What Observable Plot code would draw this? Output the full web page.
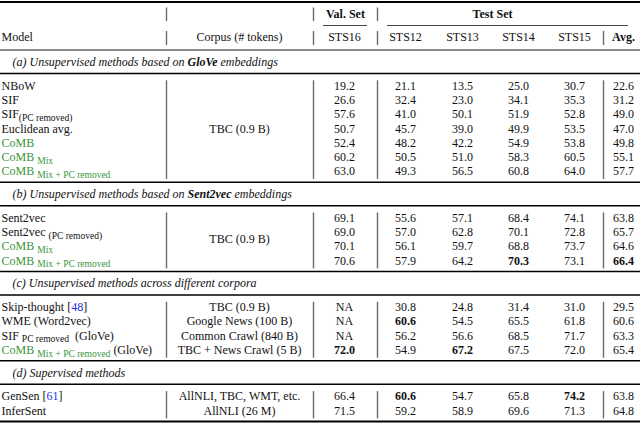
<!DOCTYPE html>
<html><head><meta charset="utf-8">
<script src="https://cdn.jsdelivr.net/npm/d3@7"></script>
<script src="https://cdn.jsdelivr.net/npm/@observablehq/plot@0.6"></script>
<style>body{margin:0;background:#fff} svg text{white-space:pre}</style>
</head><body><div id="chart"></div>
<script>
// ---------- data ----------
const columns = ["STS16", "STS12", "STS13", "STS14", "STS15", "Avg."];
const headerTop = ["Val. Set", "Test Set"];
const headerModel = "Model";
const headerCorpus = "Corpus (# tokens)";
const sections = [
  "(a) Unsupervised methods based on |b:GloVe| embeddings",
  "(b) Unsupervised methods based on |b:Sent2vec| embeddings",
  "(c) Unsupervised methods across different corpora",
  "(d) Supervised methods"
];
const models = [
  "NBoW", "SIF", "SIF|s:(PC removed)", "Euclidean avg.", "g:CoMB", "g:CoMB |gs:Mix", "g:CoMB |gs:Mix + PC removed",
  "Sent2vec", "Sent2vec |s:(PC removed)", "g:CoMB |gs:Mix", "g:CoMB |gs:Mix + PC removed",
  "Skip-thought [|c:48|]", "WME (Word2vec)", "SIF |s:PC removed|  (GloVe)", "g:CoMB |gs:Mix + PC removed| (GloVe)",
  "GenSen [|c:61|]", "InferSent"
];
const sectionOfRow = [0,0,0,0,0,0,0, 1,1,1,1, 2,2,2,2, 3,3];
const corpora = ["TBC (0.9 B)", "TBC (0.9 B)", "TBC (0.9 B)", "Google News (100 B)", "Common Crawl (840 B)",
  "TBC + News Crawl (5 B)", "AllNLI, TBC, WMT, etc.", "AllNLI (26 M)"];
const corpusRows = [[0,1,2,3,4,5,6], [7,8,9,10], [11], [12], [13], [14], [15], [16]];
const sts16 = [19.2, 26.6, 57.6, 50.7, 52.4, 60.2, 63.0, 69.1, 69.0, 70.1, 70.6, null, null, null, 72.0, 66.4, 71.5];
const sts12 = [21.1, 32.4, 41.0, 45.7, 48.2, 50.5, 49.3, 55.6, 57.0, 56.1, 57.9, 30.8, 60.6, 56.2, 54.9, 60.6, 59.2];
const sts13 = [13.5, 23.0, 50.1, 39.0, 42.2, 51.0, 56.5, 57.1, 62.8, 59.7, 64.2, 24.8, 54.5, 56.6, 67.2, 54.7, 58.9];
const sts14 = [25.0, 34.1, 51.9, 49.9, 54.9, 58.3, 60.8, 68.4, 70.1, 68.8, 70.3, 31.4, 65.5, 68.5, 67.5, 65.8, 69.6];
const sts15 = [30.7, 35.3, 52.8, 53.5, 53.8, 60.5, 64.0, 74.1, 72.8, 73.7, 73.1, 31.0, 61.8, 71.7, 72.0, 74.2, 71.3];
const avg   = [22.6, 31.2, 49.0, 47.0, 49.8, 55.1, 57.7, 63.8, 65.7, 64.6, 66.4, 29.5, 60.6, 63.3, 65.4, 63.8, 64.8];
const boldCells = [[10, "STS14"], [10, "Avg."], [12, "STS12"], [14, "STS16"], [14, "STS13"], [15, "STS12"], [15, "STS15"]];

// ---------- layout (positions, sizes, styles) ----------
const L = {
  width: 640, height: 423,
  font: "Liberation Serif", size: 12, subSize: 9.5, subShift: 2.5,
  ink: "#111", green: "#3a963a", blue: "#2233dd", barColor: "#6a6a6a",
  colX: {model: 1, corpus: 239, "STS16": 344, "STS12": 405, "STS13": 462, "STS14": 518, "STS15": 574, "Avg.": 623},
  topX: {"Val. Set": 345, "Test Set": 492},
  captionX: 12,
  bars: [166, 313, 377, 603],
  cmid: [[323, 367], [387, 628]],
  topRuleY: 1.5, hdr1Y: 14, cmidY: 25, hdr2Y: 37, hdrRuleY: 49.5,
  capGap: 12, capRule: 11.5, firstRow: 12.3, step: 14.3, lastRule: 10.6
};

// ---------- build table geometry ----------
const series = {"STS16": sts16, "STS12": sts12, "STS13": sts13, "STS14": sts14, "STS15": sts15, "Avg.": avg};
const rowY = [], capY = [], hRules = [];
hRules.push({y: L.topRuleY, w: 2}, {y: L.hdrRuleY, w: 0.9});
let cursor = L.hdrRuleY;
sections.forEach((s, si) => {
  const cy = cursor + L.capGap; capY.push(cy);
  const r = cy + L.capRule; hRules.push({y: r, w: 1.5});
  const idx = sectionOfRow.map((v, i) => v === si ? i : -1).filter(i => i >= 0);
  idx.forEach((i, k) => rowY[i] = r + L.firstRow + k * L.step);
  cursor = rowY[idx[idx.length - 1]] + L.lastRule;
  hRules.push({y: cursor, w: si === sections.length - 1 ? 2 : 1.5});
});

const isBold = (i, c) => boldCells.some(([r, cc]) => r === i && cc === c);
const cells = [];
models.forEach((m, i) => columns.forEach(c => {
  const v = series[c][i];
  cells.push({x: L.colX[c], y: rowY[i], t: v == null ? "NA" : v.toFixed(1), b: isBold(i, c)});
}));
const plain = s => s.split("|").map(seg => { const m = seg.match(/^([a-z]+):(.*)$/s); return m ? m[2] : seg; }).join("");
const modelTexts = models.map((m, i) => ({x: L.colX.model, y: rowY[i], t: plain(m)}));
const corpusTexts = corpora.map((c, k) => ({x: L.colX.corpus, y: d3.mean(corpusRows[k], i => rowY[i]), t: c}));
const captionTexts = sections.map((s, si) => ({x: L.captionX, y: capY[si], t: plain(s)}));
const hdr1 = headerTop.map(h => ({x: L.topX[h], y: L.hdr1Y, t: h}));
const hdr2 = [{x: L.colX.model, y: L.hdr2Y, t: headerModel, a: "start"}, {x: L.colX.corpus, y: L.hdr2Y, t: headerCorpus, a: "middle"}]
  .concat(columns.map(c => ({x: L.colX[c], y: L.hdr2Y, t: c, a: "middle", b: c === "Avg."})));

const bars = [];
L.bars.slice(0, 3).forEach(x => bars.push({x, y1: L.hdr1Y - 6.5, y2: L.hdr1Y + 7}));
L.bars.forEach(x => bars.push({x, y1: L.hdr2Y - 6, y2: L.hdr2Y + 8}));
sections.forEach((s, si) => {
  const ys = rowY.filter((y, i) => sectionOfRow[i] === si);
  L.bars.forEach(x => bars.push({x, y1: ys[0] - 5, y2: ys[ys.length - 1] + 8}));
});
const cmids = L.cmid.map(([a, b]) => ({x1: a, x2: b, y: L.cmidY}));

const T = {fontFamily: L.font, fontSize: L.size, fill: L.ink};
const plot = Plot.plot({
  width: L.width, height: L.height, margin: 0,
  x: {type: "linear", domain: [0, L.width], range: [0, L.width], axis: null},
  y: {type: "linear", domain: [0, L.height], range: [0, L.height], axis: null},
  style: {background: "#fff"},
  marks: [
    Plot.ruleY(hRules, {y: "y", x1: 0, x2: L.width, stroke: "#000", strokeWidth: d => d.w}),
    Plot.ruleY(cmids, {y: "y", x1: "x1", x2: "x2", stroke: "#333", strokeWidth: 0.9}),
    Plot.ruleX(bars, {x: "x", y1: "y1", y2: "y2", stroke: L.barColor, strokeWidth: 1.4}),
    Plot.text(hdr1, {x: "x", y: "y", text: "t", ...T, fontWeight: "bold"}),
    Plot.text(hdr2.filter(d => !d.b && d.a === "start"), {x: "x", y: "y", text: "t", ...T, textAnchor: "start"}),
    Plot.text(hdr2.filter(d => !d.b && d.a === "middle"), {x: "x", y: "y", text: "t", ...T}),
    Plot.text(hdr2.filter(d => d.b), {x: "x", y: "y", text: "t", ...T, fontWeight: "bold"}),
    Plot.text(captionTexts, {x: "x", y: "y", text: "t", ...T, textAnchor: "start", fontStyle: "italic"}),
    Plot.text(modelTexts, {x: "x", y: "y", text: "t", ...T, textAnchor: "start"}),
    Plot.text(corpusTexts, {x: "x", y: "y", text: "t", ...T}),
    Plot.text(cells.filter(d => !d.b), {x: "x", y: "y", text: "t", ...T}),
    Plot.text(cells.filter(d => d.b), {x: "x", y: "y", text: "t", ...T, fontWeight: "bold"})
  ]
});

// rich text: subscripts, colours, bold words
const markupByPlain = new Map();
models.concat(sections).forEach(m => { if (/\||^[a-z]+:/.test(m)) markupByPlain.set(plain(m), m); });
const NS = "http://www.w3.org/2000/svg";
plot.querySelectorAll("text").forEach(el => {
  const m = markupByPlain.get(el.textContent);
  if (!m) return;
  el.textContent = "";
  let shifted = 0;
  m.split("|").filter(s => s.length).forEach(seg => {
    const mm = seg.match(/^([a-z]+):(.*)$/s);
    const flags = mm ? mm[1] : "", txt = mm ? mm[2] : seg;
    const t = document.createElementNS(NS, "tspan");
    t.textContent = txt;
    if (flags.includes("g")) t.setAttribute("fill", L.green);
    if (flags.includes("c")) t.setAttribute("fill", L.blue);
    if (flags.includes("b")) t.setAttribute("font-weight", "bold");
    const sub = flags.includes("s");
    if (sub) t.setAttribute("font-size", L.subSize);
    const want = sub ? L.subShift : 0;
    if (want !== shifted) { t.setAttribute("dy", want - shifted); shifted = want; }
    el.appendChild(t);
  });
});
document.getElementById("chart").appendChild(plot);
</script>
</body></html>
